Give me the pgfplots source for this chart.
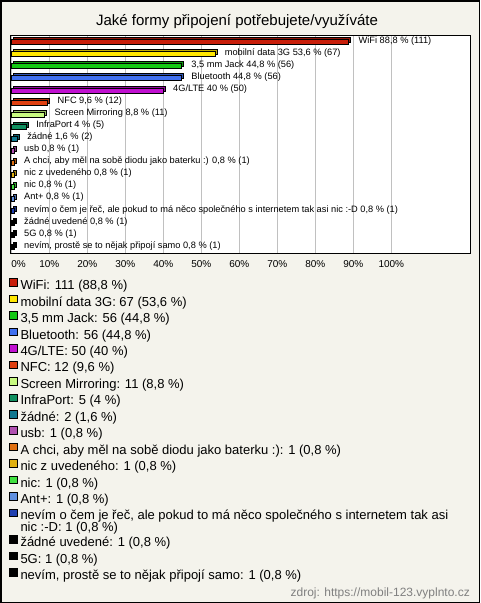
\documentclass[border=0pt]{standalone}
\usepackage{pgfplots}
\pgfplotsset{compat=1.18}
\usepackage{fontspec}
\setmainfont{Liberation Sans}
\definecolor{bgc}{RGB}{244,243,236}
\definecolor{gridc}{RGB}{192,192,192}
\definecolor{ca}{RGB}{200,30,10}
\definecolor{cb}{RGB}{255,230,0}
\definecolor{cc}{RGB}{20,200,20}
\definecolor{cd}{RGB}{64,112,240}
\definecolor{ce}{RGB}{192,16,208}
\definecolor{cf}{RGB}{224,64,16}
\definecolor{cg}{RGB}{200,250,128}
\definecolor{ch}{RGB}{16,144,96}
\definecolor{ci}{RGB}{16,120,144}
\definecolor{cj}{RGB}{176,80,176}
\definecolor{ck}{RGB}{224,112,16}
\definecolor{cl}{RGB}{224,176,16}
\definecolor{cm}{RGB}{64,224,64}
\definecolor{cn}{RGB}{96,144,224}
\definecolor{co}{RGB}{32,64,176}
\definecolor{cp}{RGB}{0,0,0}
\pgfplotsset{
  sqlegend/.style={legend image code/.code={\draw[##1, draw=black, line width=0.8pt] (0pt,0pt) rectangle (7.5pt,7.5pt);}},
}
\begin{document}
\begin{tikzpicture}
\useasboundingbox (0pt,0pt) rectangle (480pt,-603pt);
\fill[bgc] (0pt,0pt) rectangle (480pt,-603pt);
\draw[black, line width=1.5pt] (0.75pt,-0.75pt) rectangle (479.25pt,-602.25pt);
\node[anchor=base east, font=\fontsize{12}{14}\selectfont, text=black!50, inner sep=0pt] at (470pt,-596pt) {zdroj: https://mobil-123.vyplnto.cz};
\begin{axis}[
  at={(10pt,-253pt)}, anchor=south west,
  width=460pt, height=218pt, scale only axis,
  xmin=-0.34, xmax=120.7,
  ymin=-17.53, ymax=0.61,
  axis background/.style={fill=white},
  axis line style={line width=1pt},
  xtick={0,10,...,100},
  xticklabels={\makebox[0pt][l]{0\%},10\%,20\%,30\%,40\%,50\%,60\%,70\%,80\%,90\%,100\%},
  ytick=\empty,
  major tick length=0pt,
  xmajorgrids, grid style={color=gridc, line width=0.8pt},
  xticklabel style={font=\fontsize{10}{12}\selectfont, inner sep=0pt, yshift=-7.5pt},
  xbar, bar width=5pt, bar shift=0pt,
  every axis plot/.append style={line width=0.8pt},
  nodes near coords align={horizontal},
  every node near coord/.append style={anchor=west, inner sep=0pt, xshift=9.5pt, yshift=1pt, font=\fontsize{9.25}{10}\selectfont, text=black},
  sqlegend,
  legend cell align=left,
  legend style={at={(-0.00217,-0.1156)}, anchor=north west, draw=none, fill=none, inner sep=0pt,
     font=\fontsize{13}{12.3}\selectfont, row sep=2.5pt, column sep=3pt,
     nodes={inner sep=0pt, text height=9.4pt, text depth=2.7pt}},
  clip=false,
]
\addplot[fill=ca!75!black, draw=black, xshift=2pt, yshift=2pt, forget plot] coordinates {(88.8,0)};
\addplot[fill=ca, draw=black, nodes near coords={WiFi 88,8 \% (111)}] coordinates {(88.8,0)};
\addlegendentry{WiFi: 111 (88,8 \%)}
\addplot[fill=cb!75!black, draw=black, xshift=2pt, yshift=2pt, forget plot] coordinates {(53.6,-1)};
\addplot[fill=cb, draw=black, nodes near coords={mobilní data 3G 53,6 \% (67)}] coordinates {(53.6,-1)};
\addlegendentry{mobilní data 3G: 67 (53,6 \%)}
\addplot[fill=cc!75!black, draw=black, xshift=2pt, yshift=2pt, forget plot] coordinates {(44.8,-2)};
\addplot[fill=cc, draw=black, nodes near coords={3,5 mm Jack 44,8 \% (56)}] coordinates {(44.8,-2)};
\addlegendentry{3,5 mm Jack: 56 (44,8 \%)}
\addplot[fill=cd!75!black, draw=black, xshift=2pt, yshift=2pt, forget plot] coordinates {(44.8,-3)};
\addplot[fill=cd, draw=black, nodes near coords={Bluetooth 44,8 \% (56)}] coordinates {(44.8,-3)};
\addlegendentry{Bluetooth: 56 (44,8 \%)}
\addplot[fill=ce!75!black, draw=black, xshift=2pt, yshift=2pt, forget plot] coordinates {(40,-4)};
\addplot[fill=ce, draw=black, nodes near coords={4G/LTE 40 \% (50)}] coordinates {(40,-4)};
\addlegendentry{4G/LTE: 50 (40 \%)}
\addplot[fill=cf!75!black, draw=black, xshift=2pt, yshift=2pt, forget plot] coordinates {(9.6,-5)};
\addplot[fill=cf, draw=black, nodes near coords={NFC 9,6 \% (12)}] coordinates {(9.6,-5)};
\addlegendentry{NFC: 12 (9,6 \%)}
\addplot[fill=cg!75!black, draw=black, xshift=2pt, yshift=2pt, forget plot] coordinates {(8.8,-6)};
\addplot[fill=cg, draw=black, nodes near coords={Screen Mirroring 8,8 \% (11)}] coordinates {(8.8,-6)};
\addlegendentry{Screen Mirroring: 11 (8,8 \%)}
\addplot[fill=ch!75!black, draw=black, xshift=2pt, yshift=2pt, forget plot] coordinates {(4,-7)};
\addplot[fill=ch, draw=black, nodes near coords={InfraPort 4 \% (5)}] coordinates {(4,-7)};
\addlegendentry{InfraPort: 5 (4 \%)}
\addplot[fill=ci!75!black, draw=black, xshift=2pt, yshift=2pt, forget plot] coordinates {(1.6,-8)};
\addplot[fill=ci, draw=black, nodes near coords={žádné 1,6 \% (2)}] coordinates {(1.6,-8)};
\addlegendentry{žádné: 2 (1,6 \%)}
\addplot[fill=cj!75!black, draw=black, xshift=2pt, yshift=2pt, forget plot] coordinates {(0.8,-9)};
\addplot[fill=cj, draw=black, nodes near coords={usb 0,8 \% (1)}] coordinates {(0.8,-9)};
\addlegendentry{usb: 1 (0,8 \%)}
\addplot[fill=ck!75!black, draw=black, xshift=2pt, yshift=2pt, forget plot] coordinates {(0.8,-10)};
\addplot[fill=ck, draw=black, nodes near coords={A chci, aby měl na sobě diodu jako baterku :) 0,8 \% (1)}] coordinates {(0.8,-10)};
\addlegendentry{A chci, aby měl na sobě diodu jako baterku :): 1 (0,8 \%)}
\addplot[fill=cl!75!black, draw=black, xshift=2pt, yshift=2pt, forget plot] coordinates {(0.8,-11)};
\addplot[fill=cl, draw=black, nodes near coords={nic z uvedeného 0,8 \% (1)}] coordinates {(0.8,-11)};
\addlegendentry{nic z uvedeného: 1 (0,8 \%)}
\addplot[fill=cm!75!black, draw=black, xshift=2pt, yshift=2pt, forget plot] coordinates {(0.8,-12)};
\addplot[fill=cm, draw=black, nodes near coords={nic 0,8 \% (1)}] coordinates {(0.8,-12)};
\addlegendentry{nic: 1 (0,8 \%)}
\addplot[fill=cn!75!black, draw=black, xshift=2pt, yshift=2pt, forget plot] coordinates {(0.8,-13)};
\addplot[fill=cn, draw=black, nodes near coords={Ant+ 0,8 \% (1)}] coordinates {(0.8,-13)};
\addlegendentry{Ant+: 1 (0,8 \%)}
\addplot[fill=co!75!black, draw=black, xshift=2pt, yshift=2pt, forget plot] coordinates {(0.8,-14)};
\addplot[fill=co, draw=black, nodes near coords={nevím o čem je řeč, ale pokud to má něco společného s internetem tak asi nic :-D 0,8 \% (1)}] coordinates {(0.8,-14)};
\addlegendentry{nevím o čem je řeč, ale pokud to má něco společného s internetem tak asi}
\addlegendimage{empty legend}
\addlegendentry[text height=6.6pt, text depth=1.2pt]{nic :-D: 1 (0,8 \%)}
\addplot[fill=cp, draw=black, xshift=2pt, yshift=2pt, forget plot] coordinates {(0.8,-15)};
\addplot[fill=cp, draw=black, nodes near coords={žádné uvedené 0,8 \% (1)}] coordinates {(0.8,-15)};
\addlegendentry{žádné uvedené: 1 (0,8 \%)}
\addplot[fill=cp, draw=black, xshift=2pt, yshift=2pt, forget plot] coordinates {(0.8,-16)};
\addplot[fill=cp, draw=black, nodes near coords={5G 0,8 \% (1)}] coordinates {(0.8,-16)};
\addlegendentry{5G: 1 (0,8 \%)}
\addplot[fill=cp, draw=black, xshift=2pt, yshift=2pt, forget plot] coordinates {(0.8,-17)};
\addplot[fill=cp, draw=black, nodes near coords={nevím, prostě se to nějak připojí samo 0,8 \% (1)}] coordinates {(0.8,-17)};
\addlegendentry{nevím, prostě se to nějak připojí samo: 1 (0,8 \%)}
\end{axis}
\node[anchor=base, font=\fontsize{15}{18}\selectfont, inner sep=0pt] at (237pt,-25pt) {Jaké formy připojení potřebujete/využíváte};
\end{tikzpicture}
\end{document}
